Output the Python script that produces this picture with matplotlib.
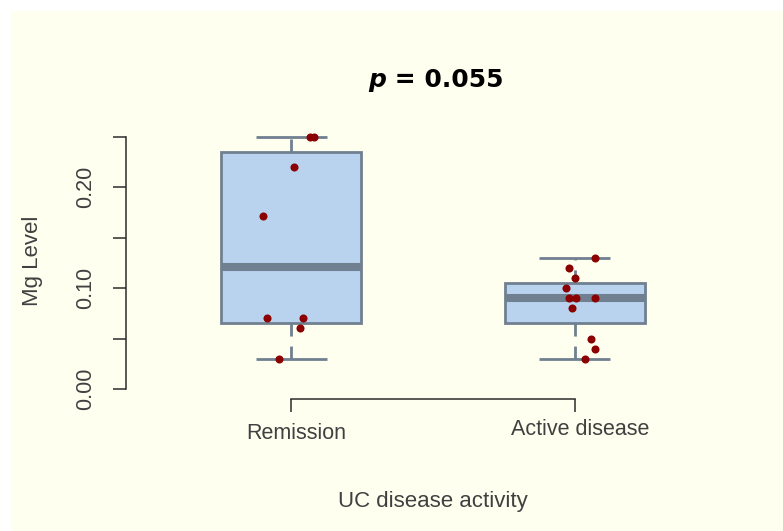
import matplotlib
matplotlib.use("Agg")
import matplotlib.pyplot as plt
import numpy as np
from matplotlib.patches import Rectangle
from matplotlib.offsetbox import TextArea, HPacker, AnnotationBbox
from matplotlib.transforms import ScaledTranslation

# ---------------- data ----------------
categories = ["Remission", "Active disease"]
remission_mg = [0.25, 0.25, 0.22, 0.171, 0.07, 0.07, 0.06, 0.03]
active_mg = [0.13, 0.12, 0.11, 0.10, 0.09, 0.09, 0.09, 0.08, 0.05, 0.04, 0.03]
# horizontal jitter of the dots (category units)
remission_jitter = [0.067, 0.081, 0.011, -0.099, -0.085, 0.042, 0.032, -0.042]
active_jitter = [0.070, -0.021, 0.0, -0.032, -0.021, 0.004, 0.070, -0.011, 0.056, 0.070, 0.035]
yticks = [0.00, 0.05, 0.10, 0.15, 0.20, 0.25]
ytick_labels = ["0.00", "", "0.10", "", "0.20", ""]
p_value = "0.055"
xlabel = "UC disease activity"
ylabel = "Mg Level"


def tukey_stats(values):
    x = np.sort(np.asarray(values, dtype=float))
    n = len(x)
    n4 = np.floor((n + 3) / 2) / 2
    d = np.array([1, n4, (n + 1) / 2, n + 1 - n4, n]) - 1
    fn = 0.5 * (x[np.floor(d).astype(int)] + x[np.ceil(d).astype(int)])
    iqr = fn[3] - fn[1]
    inside = x[(x >= fn[1] - 1.5 * iqr) & (x <= fn[3] + 1.5 * iqr)]
    return dict(med=fn[2], q1=fn[1], q3=fn[3], whislo=inside.min(),
                whishi=inside.max(), fliers=[])


W, H = 783, 531
fig = plt.figure(figsize=(W / 100, H / 100), dpi=100, facecolor="white")
fig.add_artist(Rectangle((11 / W, 0), 1, 1 - 11 / H, transform=fig.transFigure,
                         facecolor="#FFFFF0", edgecolor="none", zorder=-1))

ax = fig.add_axes([126.3 / W, 1 - 399.1 / H, (739.7 - 126.3) / W, (399.1 - 126.4) / H])
ax.set_facecolor("none")

slate = "#708090"
stats = [tukey_stats(remission_mg), tukey_stats(active_mg)]
positions = np.arange(1, len(categories) + 1)
ax.bxp(stats, positions=positions, widths=0.495, capwidths=0.25,
       patch_artist=True, showfliers=False,
       boxprops=dict(facecolor="#B9D3EE", edgecolor=slate, linewidth=2),
       medianprops=dict(color=slate, linewidth=5.8, solid_capstyle="butt"),
       whiskerprops=dict(color=slate, linewidth=2, linestyle=(0, (4.7, 3.6)),
                         dash_capstyle="butt"),
       capprops=dict(color=slate, linewidth=2, solid_capstyle="butt"))

for pos, vals, jit in zip(positions, [remission_mg, active_mg],
                          [remission_jitter, active_jitter]):
    ax.plot(pos + np.asarray(jit), vals, linestyle="none", marker="o",
            markersize=5.8, color="#8B0000", markeredgewidth=0, zorder=5)

ax.set_xlim(0.42, 2.58)
ax.set_ylim(-0.01, 0.26)

for s in ["top", "right"]:
    ax.spines[s].set_visible(False)
axis_col = "#2b2b2b"
ax.spines["left"].set_bounds(0, 0.25)
ax.spines["bottom"].set_bounds(1, 2)
for s in ["left", "bottom"]:
    ax.spines[s].set_color(axis_col)
    ax.spines[s].set_linewidth(1.1)

text_col = "#404040"
ax.set_yticks(yticks)
ax.set_yticklabels(ytick_labels, rotation=90, va="center",
                   fontfamily="Liberation Sans", fontsize=15.5, color=text_col)
ax.set_xticks(positions)
ax.set_xticklabels(categories, fontfamily="Liberation Sans", fontsize=15.5,
                   color=text_col)
ax.tick_params(axis="both", direction="out", length=9.4, width=1.1, color=axis_col)
ax.tick_params(axis="y", pad=12)
ax.tick_params(axis="x", pad=7.5)

# individual shifts of the category labels (as in the reference)
label_shifts = [(5 / 100, 0), (5.5 / 100, 4 / 100)]
for lab, (dx, dy) in zip(ax.get_xticklabels(), label_shifts):
    lab.set_transform(lab.get_transform() + ScaledTranslation(dx, dy, fig.dpi_scale_trans))

ax.set_xlabel(xlabel, fontfamily="Liberation Sans", fontsize=16, color=text_col)
ax.xaxis.set_label_coords(0.5, -0.377)
ax.xaxis.label.set_verticalalignment("center")
ax.set_ylabel(ylabel, fontfamily="Liberation Sans", fontsize=16, color=text_col)
ax.yaxis.set_label_coords(-0.153, 0.507)
ax.yaxis.label.set_verticalalignment("center")

# title: italic bold p = value
tp = dict(fontfamily="DejaVu Sans", fontsize=18, fontweight="bold", color="black")
title_box = HPacker(children=[TextArea("p", textprops=dict(tp, fontstyle="italic")),
                              TextArea(" = " + p_value, textprops=tp)],
                    align="baseline", pad=0, sep=0)
ab = AnnotationBbox(title_box, (435.5 / W, 1 - 80 / H), xycoords="figure fraction",
                    frameon=False, box_alignment=(0.5, 0.5))
fig.add_artist(ab)

fig.savefig("out.png", dpi=100, facecolor="white")
